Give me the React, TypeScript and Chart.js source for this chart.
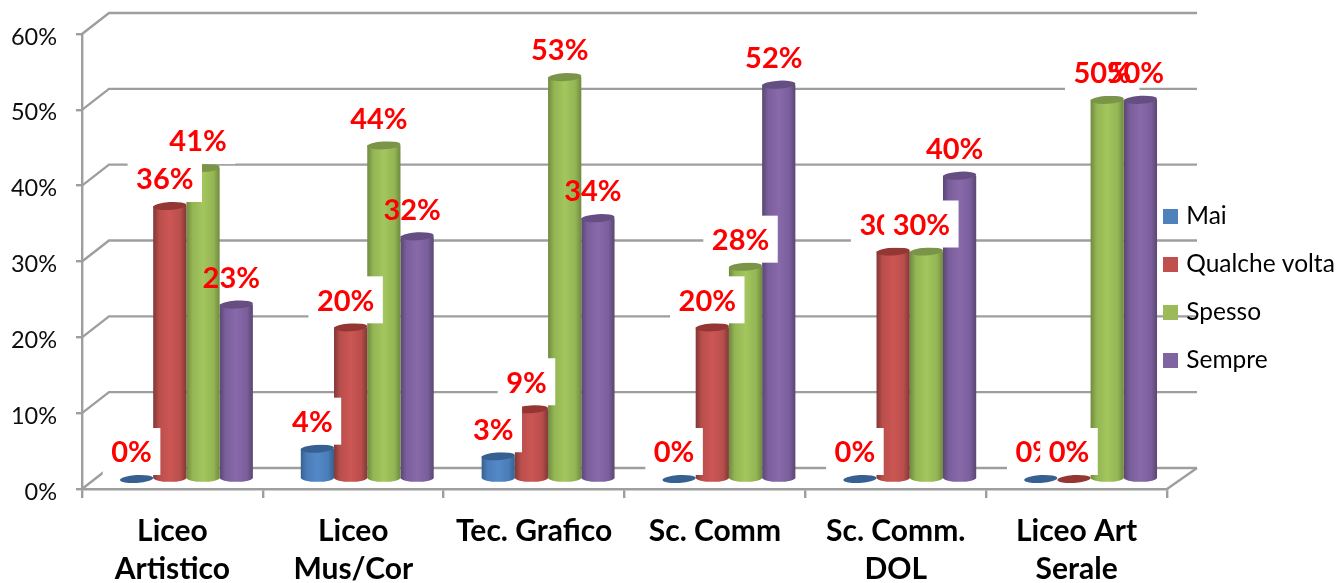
import React, { useEffect, useRef } from "react";
import { Chart, registerables } from "chart.js";

Chart.register(...registerables);

const categories = [
  ["Liceo", "Artistico"],
  ["Liceo", "Mus/Cor"],
  ["Tec. Grafico"],
  ["Sc. Comm"],
  ["Sc. Comm.", "DOL"],
  ["Liceo Art", "Serale"],
];
const seriesNames = ["Mai", "Qualche volta", "Spesso", "Sempre"];
const mai = [0, 4, 3, 0, 0, 0];
const qualcheVolta = [36, 20, 9.2, 20, 30, 0];
const spesso = [41, 44, 53, 28, 30, 50];
const sempre = [23, 32, 34.4, 52, 40, 50];
const seriesValues = [mai, qualcheVolta, spesso, sempre];
const legendColors = ["#4f81bd", "#c0504d", "#9bbb59", "#8064a2"];
const edgeColors = ["#38608f", "#803836", "#6f8a3f", "#5a4672"];
const sideColors = ["#4a7db8", "#b94e4b", "#94b554", "#7a5f9c"];
const midColors = ["#5389c8", "#cc5654", "#a3c65d", "#8869aa"];
const capColors = ["#376092", "#943634", "#7a9448", "#664e82"];
const labelBoxed = [true, true, true, false];

const GROUP_SHARE = 0.735;
const BAR_DX = 14;
const BAR_DY = -10;
const LABEL_DX = -5;
const LABEL_DY = -26;
const LEGEND_WIDTH = 177;
const GRID = "#9e9e9e";

function bodyGradient(chart: any, seriesIndex: number, dataIndex: number) {
  const x = chart.scales.x;
  const band = x.width / categories.length;
  const barW = (band * GROUP_SHARE) / seriesValues.length;
  const center = x.getPixelForValue(dataIndex);
  const left = center + (seriesIndex - seriesValues.length / 2) * barW;
  const g = chart.ctx.createLinearGradient(left, 0, left + barW, 0);
  g.addColorStop(0, edgeColors[seriesIndex]);
  g.addColorStop(0.18, sideColors[seriesIndex]);
  g.addColorStop(0.5, midColors[seriesIndex]);
  g.addColorStop(0.82, sideColors[seriesIndex]);
  g.addColorStop(1, edgeColors[seriesIndex]);
  return g;
}

const threeD = {
  id: "threeD",
  beforeLayout(chart: any) {
    const l = chart.legend;
    if (l && !l.__patched) {
      const fit = l.fit.bind(l);
      l.fit = () => {
        fit();
        l.width = LEGEND_WIDTH;
      };
      l.__patched = true;
    }
  },
  beforeDraw(chart: any) {
    const { ctx, scales } = chart;
    const y = scales.y;
    const x = scales.x;
    const dy = -21;
    const l = chart.legend;
    if (l) {
      const pad = l.options.labels.padding;
      l.left = x.right - pad;
      l.top = 31;
      l.bottom = 546;
    }
    ctx.save();
    ctx.strokeStyle = GRID;
    ctx.lineWidth = 2.4;
    y.ticks.forEach((t: any) => {
      const py = y.getPixelForValue(t.value);
      ctx.beginPath();
      ctx.moveTo(x.left, py);
      ctx.lineTo(x.left + 27, py + dy);
      ctx.lineTo(x.right + 30, py + dy);
      ctx.stroke();
    });
    const base = y.getPixelForValue(0);
    ctx.beginPath();
    ctx.moveTo(x.right, base);
    ctx.lineTo(x.right + 30, base + dy);
    ctx.stroke();
    ctx.restore();
  },
  beforeDatasetsDraw(chart: any) {
    chart.ctx.save();
    chart.ctx.translate(BAR_DX, BAR_DY);
  },
  afterDatasetDraw(chart: any, args: any) {
    const { ctx } = chart;
    const s = args.index;
    const ry = 4;
    args.meta.data.forEach((el: any, i: number) => {
      const rx = el.width / 2;
      const v = seriesValues[s][i];
      ctx.save();
      if (v > 0) {
        ctx.fillStyle = bodyGradient(chart, s, i);
        ctx.beginPath();
        ctx.ellipse(el.x, el.base, rx, ry, 0, 0, Math.PI * 2);
        ctx.fill();
      }
      ctx.fillStyle = capColors[s];
      ctx.beginPath();
      ctx.ellipse(el.x, el.y, rx, ry, -0.06, 0, Math.PI * 2);
      ctx.fill();
      ctx.restore();
    });
  },
  afterDatasetsDraw(chart: any) {
    chart.ctx.restore();
  },
  afterDraw(chart: any) {
    const { ctx } = chart;
    ctx.save();
    ctx.font = "bold 29px Lato";
    ctx.textAlign = "center";
    ctx.textBaseline = "middle";
    seriesValues.forEach((values, s) => {
      const meta = chart.getDatasetMeta(s);
      values.forEach((v, i) => {
        const el = meta.data[i];
        const cx = el.x + BAR_DX + LABEL_DX;
        const cy = el.y + BAR_DY + LABEL_DY;
        const text = `${Math.round(v)}%`;
        const w = ctx.measureText(text).width + 17;
        if (labelBoxed[s]) {
          ctx.fillStyle = "#ffffff";
          ctx.fillRect(cx - w / 2, cy - 25, w, 47);
        }
        ctx.fillStyle = "#ff0000";
        ctx.fillText(text, cx, cy);
      });
    });
    ctx.restore();
  },
};

export default function App() {
  const ref = useRef<HTMLCanvasElement>(null);
  useEffect(() => {
    const chart = new Chart(ref.current as HTMLCanvasElement, {
      type: "bar",
      data: {
        labels: categories as any,
        datasets: seriesNames.map((name, s) => ({
          label: name,
          data: seriesValues[s],
          clip: false as any,
          borderWidth: 0,
          backgroundColor: (c: any) => bodyGradient(c.chart, s, c.dataIndex ?? 0),
        })),
      },
      options: {
        responsive: false,
        animation: false,
        events: [],
        categoryPercentage: GROUP_SHARE,
        barPercentage: 1,
        layout: { padding: { top: 34, left: 0, right: 0, bottom: 0 } },
        plugins: {
          title: { display: false },
          tooltip: { enabled: false },
          legend: {
            display: true,
            position: "right",
            labels: {
              boxWidth: 7,
              boxHeight: 7,
              padding: 23.5,
              color: "#0d0d0d",
              font: { family: "Lato", size: 24.5 },
              generateLabels: () =>
                seriesNames.map((text, s) => ({
                  text,
                  fillStyle: legendColors[s],
                  strokeStyle: legendColors[s],
                  lineWidth: 8,
                  datasetIndex: s,
                })),
            },
          },
        },
        scales: {
          x: {
            afterFit: (scale: any) => {
              scale.height = 94;
            },
            border: { color: GRID, width: 2.4 },
            grid: { display: true, drawOnChartArea: false, drawTicks: true, tickLength: 9, color: GRID, lineWidth: 2.4 },
            ticks: {
              autoSkip: false,
              maxRotation: 0,
              padding: 14,
              color: "#000000",
              font: { family: "Lato", size: 30, weight: "bold", lineHeight: "38px" },
            },
          },
          y: {
            min: 0,
            max: 60,
            afterFit: (scale: any) => {
              scale.width = 82;
            },
            border: { color: GRID, width: 2.4 },
            grid: { display: true, drawOnChartArea: false, drawTicks: true, tickLength: 6, color: GRID, lineWidth: 2.4 },
            ticks: {
              stepSize: 10,
              padding: 19,
              labelOffset: 3,
              color: "#0d0d0d",
              font: { family: "Lato", size: 23.5 },
              callback: (v: any) => `${v}%`,
            },
          },
        },
      } as any,
      plugins: [threeD],
    });
    return () => chart.destroy();
  }, []);
  return (
    <div style={{ position: "fixed", left: 0, top: 0, background: "#fff" }}>
      <canvas ref={ref} width={1344} height={583} style={{ display: "block" }} />
    </div>
  );
}
